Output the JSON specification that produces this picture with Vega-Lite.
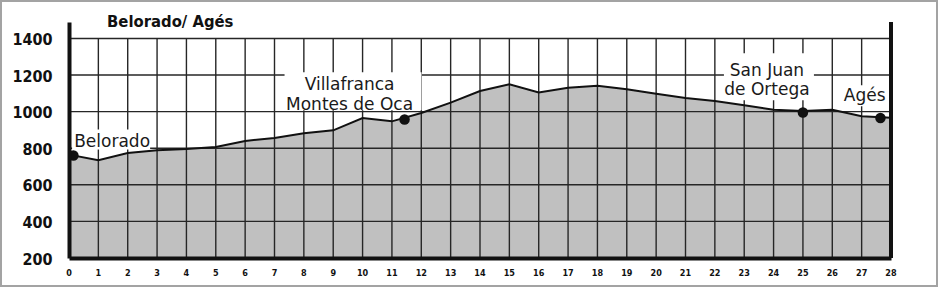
{
  "$schema": "https://vega.github.io/schema/vega-lite/v6.json",
  "width": 936,
  "height": 285,
  "autosize": {"type": "none"},
  "padding": {"left": 1, "top": 1, "right": 2, "bottom": 2},
  "background": "white",
  "config": {
    "view": {"stroke": "#a3a3a3", "strokeWidth": 2},
    "font": "DejaVu Sans",
    "axisX": {"labels": false}
  },
  "title": {"text": "Belorado/ Agés", "anchor": "start", "frame": "group", "orient": "none", "dx": 106, "dy": 25.5, "baseline": "alphabetic", "align": "left", "font": "DejaVu Sans Condensed, DejaVu Sans", "fontSize": 16.5, "fontWeight": "bold", "color": "#111"},
  "datasets": {
    "profile": [
      {"km": 0, "elev": 765}, {"km": 1, "elev": 735}, {"km": 2, "elev": 774}, {"km": 3, "elev": 789},
      {"km": 4, "elev": 796}, {"km": 5, "elev": 807}, {"km": 6, "elev": 840}, {"km": 7, "elev": 856},
      {"km": 8, "elev": 882}, {"km": 9, "elev": 898}, {"km": 10, "elev": 965}, {"km": 11, "elev": 947},
      {"km": 12, "elev": 993}, {"km": 13, "elev": 1049}, {"km": 14, "elev": 1113}, {"km": 15, "elev": 1149},
      {"km": 16, "elev": 1105}, {"km": 17, "elev": 1131}, {"km": 18, "elev": 1142}, {"km": 19, "elev": 1122},
      {"km": 20, "elev": 1098}, {"km": 21, "elev": 1074}, {"km": 22, "elev": 1058}, {"km": 23, "elev": 1035},
      {"km": 24, "elev": 1011}, {"km": 25, "elev": 1003}, {"km": 26, "elev": 1010}, {"km": 27, "elev": 975},
      {"km": 28, "elev": 966}
    ],
    "places": [
      {"place": "Belorado", "label": "Belorado", "km": 0.15, "elev": 760},
      {"place": "Villafranca", "label": "Villafranca\nMontes de Oca", "km": 11.43, "elev": 957},
      {"place": "San Juan", "label": "San Juan\nde Ortega", "km": 25.0, "elev": 995},
      {"place": "Agés", "label": "Agés", "km": 27.64, "elev": 965}
    ],
    "gridkm": [
      {"km": 1}, {"km": 2}, {"km": 3}, {"km": 4}, {"km": 5}, {"km": 6}, {"km": 7}, {"km": 8}, {"km": 9},
      {"km": 10}, {"km": 11}, {"km": 12}, {"km": 13}, {"km": 14}, {"km": 15}, {"km": 16}, {"km": 17}, {"km": 18},
      {"km": 19}, {"km": 20}, {"km": 21}, {"km": 22}, {"km": 23}, {"km": 24}, {"km": 25}, {"km": 26}, {"km": 27}
    ],
    "ticks": [
      {"km": 0}, {"km": 1}, {"km": 2}, {"km": 3}, {"km": 4}, {"km": 5}, {"km": 6}, {"km": 7}, {"km": 8}, {"km": 9},
      {"km": 10}, {"km": 11}, {"km": 12}, {"km": 13}, {"km": 14}, {"km": 15}, {"km": 16}, {"km": 17}, {"km": 18},
      {"km": 19}, {"km": 20}, {"km": 21}, {"km": 22}, {"km": 23}, {"km": 24}, {"km": 25}, {"km": 26}, {"km": 27}, {"km": 28}
    ],
    "gridelev": [{"elev": 400}, {"elev": 600}, {"elev": 800}, {"elev": 1000}, {"elev": 1200}, {"elev": 1400}]
  },
  "layer": [
    {
      "data": {"name": "profile"},
      "mark": {"type": "area", "color": "#c0c0c0", "opacity": 1},
      "encoding": {
        "x": {
          "field": "km", "type": "quantitative", "title": null,
          "scale": {"domain": [0, 28], "range": [68, 890], "nice": false, "zero": false},
          "axis": {
            "labels": false, "ticks": false, "tickSize": 0, "grid": false,
            "domainWidth": 4, "domainColor": "#111", "offset": -28, "zindex": 1
          }
        },
        "y": {
          "field": "elev", "type": "quantitative", "title": null,
          "scale": {"domain": [200, 1490], "range": [257, 21], "nice": false, "zero": false},
          "axis": {
            "values": [200, 400, 600, 800, 1000, 1200, 1400], "format": "d",
            "ticks": false, "tickSize": 0, "grid": false,
            "domainWidth": 4, "domainColor": "#111", "offset": -68, "zindex": 1,
            "labelFont": "DejaVu Sans Condensed, DejaVu Sans", "labelFontSize": 16, "labelFontWeight": "bold",
            "labelColor": "#111", "labelPadding": 17, "labelOffset": 1, "labelFlush": false, "labelOverlap": false
          }
        },
        "y2": {"datum": 200}
      }
    },
    {
      "data": {"name": "gridkm"},
      "mark": {"type": "rule", "color": "#262626", "strokeWidth": 1.4},
      "encoding": {
        "x": {"field": "km", "type": "quantitative", "title": null},
        "y": {"datum": 200, "type": "quantitative"},
        "y2": {"datum": 1400}
      }
    },
    {
      "data": {"name": "gridelev"},
      "mark": {"type": "rule", "color": "#262626", "strokeWidth": 1.4},
      "encoding": {
        "y": {"field": "elev", "type": "quantitative", "title": null},
        "x": {"datum": 0, "type": "quantitative"},
        "x2": {"datum": 28}
      }
    },
    {
      "data": {"name": "places"},
      "transform": [{"filter": "datum.place === 'Belorado'"}],
      "mark": {"type": "rect", "color": "white", "opacity": 1, "width": 78, "height": 20, "xOffset": 37.7, "yOffset": -16},
      "encoding": {"x": {"field": "km", "type": "quantitative", "title": null}, "y": {"field": "elev", "type": "quantitative", "title": null}}
    },
    {
      "data": {"name": "places"},
      "transform": [{"filter": "datum.place === 'Villafranca'"}],
      "mark": {"type": "rect", "color": "white", "opacity": 1, "width": 137, "height": 38, "xOffset": -51.5, "yOffset": -28.3},
      "encoding": {"x": {"field": "km", "type": "quantitative", "title": null}, "y": {"field": "elev", "type": "quantitative", "title": null}}
    },
    {
      "data": {"name": "places"},
      "transform": [{"filter": "datum.place === 'San Juan'"}],
      "mark": {"type": "rect", "color": "white", "opacity": 1, "width": 90, "height": 47, "xOffset": -34, "yOffset": -35.8},
      "encoding": {"x": {"field": "km", "type": "quantitative", "title": null}, "y": {"field": "elev", "type": "quantitative", "title": null}}
    },
    {
      "data": {"name": "places"},
      "transform": [{"filter": "datum.place === 'Agés'"}],
      "mark": {"type": "rect", "color": "white", "opacity": 1, "width": 48, "height": 21, "xOffset": -17.7, "yOffset": -22.2},
      "encoding": {"x": {"field": "km", "type": "quantitative", "title": null}, "y": {"field": "elev", "type": "quantitative", "title": null}}
    },
    {
      "data": {"name": "places"},
      "transform": [{"filter": "datum.place === 'Belorado'"}],
      "mark": {"type": "text", "font": "DejaVu Sans", "fontSize": 17, "color": "#1a1a1a", "align": "center", "baseline": "alphabetic", "dx": 38.7, "dy": -8.3},
      "encoding": {"x": {"field": "km", "type": "quantitative", "title": null}, "y": {"field": "elev", "type": "quantitative", "title": null}, "text": {"field": "label"}}
    },
    {
      "data": {"name": "places"},
      "transform": [{"filter": "datum.place === 'Villafranca'"}],
      "mark": {"type": "text", "font": "DejaVu Sans", "fontSize": 17, "color": "#1a1a1a", "align": "center", "baseline": "alphabetic", "dx": -55, "dy": -29.3, "lineBreak": "\n", "lineHeight": 19.5},
      "encoding": {"x": {"field": "km", "type": "quantitative", "title": null}, "y": {"field": "elev", "type": "quantitative", "title": null}, "text": {"field": "label"}}
    },
    {
      "data": {"name": "places"},
      "transform": [{"filter": "datum.place === 'San Juan'"}],
      "mark": {"type": "text", "font": "DejaVu Sans", "fontSize": 17, "color": "#1a1a1a", "align": "center", "baseline": "alphabetic", "dx": -36, "dy": -36.8, "lineBreak": "\n", "lineHeight": 19.5},
      "encoding": {"x": {"field": "km", "type": "quantitative", "title": null}, "y": {"field": "elev", "type": "quantitative", "title": null}, "text": {"field": "label"}}
    },
    {
      "data": {"name": "places"},
      "transform": [{"filter": "datum.place === 'Agés'"}],
      "mark": {"type": "text", "font": "DejaVu Sans", "fontSize": 17, "color": "#1a1a1a", "align": "center", "baseline": "alphabetic", "dx": -15.7, "dy": -16.7},
      "encoding": {"x": {"field": "km", "type": "quantitative", "title": null}, "y": {"field": "elev", "type": "quantitative", "title": null}, "text": {"field": "label"}}
    },
    {
      "data": {"name": "profile"},
      "mark": {"type": "line", "color": "#111", "strokeWidth": 2},
      "encoding": {"x": {"field": "km", "type": "quantitative", "title": null}, "y": {"field": "elev", "type": "quantitative", "title": null}}
    },
    {
      "data": {"name": "places"},
      "mark": {"type": "circle", "color": "#111", "opacity": 1, "size": 110},
      "encoding": {"x": {"field": "km", "type": "quantitative", "title": null}, "y": {"field": "elev", "type": "quantitative", "title": null}}
    },
    {
      "data": {"name": "ticks"},
      "mark": {"type": "text", "font": "DejaVu Sans Condensed, DejaVu Sans", "fontSize": 9, "fontWeight": "bold", "color": "#111", "align": "center", "baseline": "middle", "dy": 15},
      "encoding": {
        "x": {"field": "km", "type": "quantitative", "title": null},
        "y": {"datum": 200, "type": "quantitative"},
        "text": {"field": "km", "type": "quantitative", "format": "d"}
      }
    },
    {
      "data": {"values": [{}]},
      "mark": {"type": "rule", "color": "#111", "strokeWidth": 4},
      "encoding": {"x": {"datum": 28, "type": "quantitative"}, "y": {"datum": 200, "type": "quantitative"}, "y2": {"datum": 1490}}
    }
  ]
}
